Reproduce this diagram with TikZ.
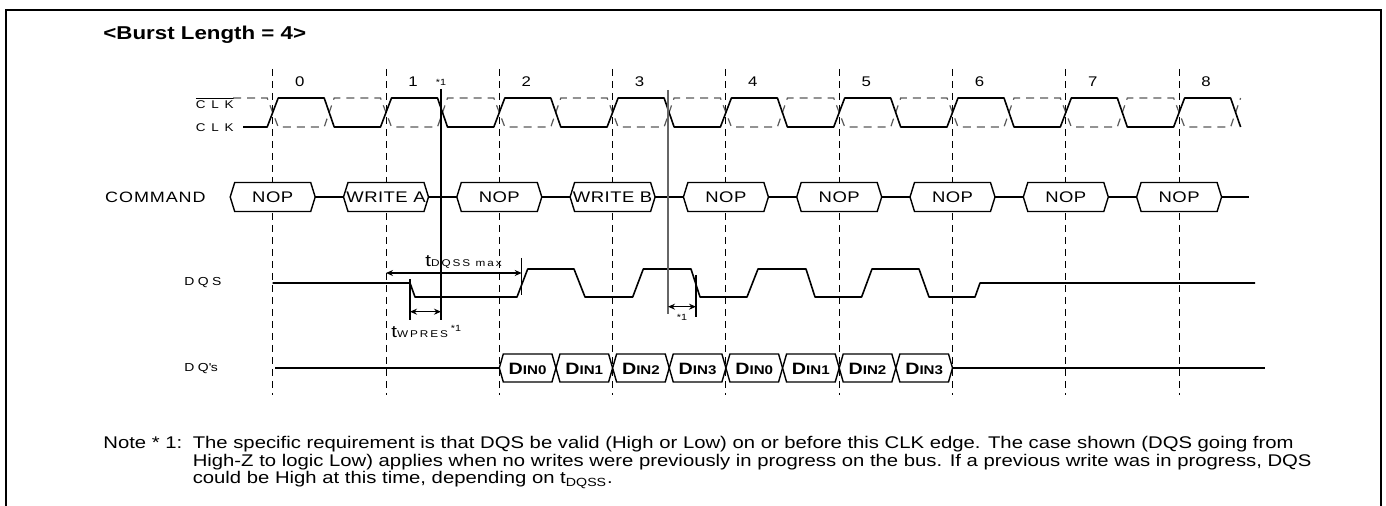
\documentclass[tikz,border=0pt]{standalone}
\usepackage{fontspec}
\setmainfont{Liberation Sans}[FakeStretch=1.2]
\usetikzlibrary{arrows.meta, positioning}

\begin{document}
\begin{tikzpicture}[
    x=0.5pt, y=-0.5pt,
    font=\fontsize{7}{8}\selectfont,
    wave/.style={line width=0.8pt, line join=round},
    ghost/.style={line width=0.6pt, black!65, dash pattern=on 4pt off 3pt},
    edgeline/.style={line width=0.5pt, dash pattern=on 3.5pt off 2.5pt},
    marker/.style={line width=0.6pt},
    dim/.style={line width=0.6pt, {Stealth[length=3.5pt,width=3pt]}-{Stealth[length=3.5pt,width=3pt]}},
    siglabel/.style={inner sep=0pt, font=\fontsize{5.6}{6}\selectfont\addfontfeatures{LetterSpace=52}},
    bus/.style={line width=0.7pt, fill=white},
    buslabel/.style={inner sep=0pt, font=\fontsize{7.7}{8}\selectfont\addfontfeatures{LetterSpace=3}},
    datalabel/.style={inner sep=0pt, font=\bfseries\fontsize{8.2}{9}\selectfont},
    starlabel/.style={inner sep=0pt, font=\fontsize{4.5}{5}\selectfont}
]
\def\xo{272.7}
\def\T{113.3}

\useasboundingbox (0,0) rectangle (1386,506);
\draw[line width=1.2pt] (6,506) -- (6,10) -- (1381,10) -- (1381,506);

\node[font=\bfseries\fontsize{9.3}{11}\selectfont, anchor=west, inner sep=0pt] (title) at (103,35) {<Burst Length = 4>};

% clock edges and cycle numbers
\foreach \i in {0,...,8}{
    \draw[edgeline] ({\xo+\i*\T},69) -- ({\xo+\i*\T},395);
    \node (num\i) at ({\xo+\i*\T+27},82) {\i};
}

% signal names
\node[siglabel, anchor=east] (clkb) at (234,103) {$\overline{\hbox{CLK}}$};
\node[siglabel, anchor=east] (clk) at (234,128) {CLK};
\node[buslabel, anchor=east, font=\fontsize{7.5}{8}\selectfont\addfontfeatures{LetterSpace=6}] (cmd) at (206,197) {COMMAND};
\node[siglabel, anchor=west, font=\fontsize{5.8}{7}\selectfont\addfontfeatures{LetterSpace=30}] (dqs) at (184,283) {DQS};
\node[siglabel, anchor=west, font=\fontsize{5.8}{7}\selectfont\addfontfeatures{LetterSpace=30}] (dq) at (184,369) {DQ\textquotesingle s};

% clocks
\draw[ghost] (233,98) \foreach \i in {0,...,8}{
    -- ({\xo+\i*\T-5.5},98) -- ({\xo+\i*\T+5.5},127)
    -- ({\xo+\i*\T+51.5},127) -- ({\xo+\i*\T+61.5},98)};
\draw[wave] (243,127) \foreach \i in {0,...,8}{
    -- ({\xo+\i*\T-5.5},127) -- ({\xo+\i*\T+5.5},98)
    -- ({\xo+\i*\T+51.5},98) -- ({\xo+\i*\T+61.5},127)};

% command bus
\foreach \i/\cmd in {0/NOP,1/WRITE A,2/NOP,3/WRITE B,4/NOP,5/NOP,6/NOP,7/NOP,8/NOP}{
    \draw[bus] ({\xo+\i*\T-42.5},197) -- ++(4.5,-14.5) -- ({\xo+\i*\T+38},182.5)
        -- ++(4.5,14.5) -- ++(-4.5,14.5) -- ({\xo+\i*\T-38},211.5) -- cycle;
    \node[buslabel] (cmd\i) at ({\xo+\i*\T},197) {\cmd};
    \coordinate (cmdL\i) at ({\xo+\i*\T-42.5},197);
    \coordinate (cmdR\i) at ({\xo+\i*\T+42.5},197);
}
\foreach \i [count=\j from 1] in {0,...,7}
    \draw[wave] (cmdR\i) -- (cmdL\j);
\coordinate (cmdend) at (1249,197);
\draw[wave] (cmdR8) -- (cmdend);

% DQS
\draw[wave] (272.7,283) -- (410,283) -- (415,297) -- (517,297) -- (527.7,269)
    -- (574,269) -- (585,297) -- (632.7,297) -- (643.3,269) -- (691,269)
    -- (700,297) -- (747,297) -- (758,269) -- (806,269) -- (815,297)
    -- (861.6,297) -- (872,269) -- (919,269) -- (929,297) -- (975,297)
    -- (980,283) -- (1255,283);

% DQ's
\foreach \k/\n in {0/0,1/1,2/2,3/3,4/0,5/1,6/2,7/3}{
    \pgfmathsetmacro\a{499.3+\k*56.65}
    \draw[bus] (\a,368) -- ++(4,-14) -- ({\a+52.65},354) -- ++(4,14)
        -- ++(-4,14) -- ({\a+4},382) -- cycle;
    \node[datalabel] (din\k) at ({\a+28.3},368.5) {D{\fontsize{6.3}{7}\selectfont IN\n}};
}
\coordinate (dqstart) at (275,368);
\coordinate (dqin) at (499.3,368);
\coordinate (dqout) at (952.5,368);
\coordinate (dqend) at (1265,368);
\draw[wave] (dqstart) -- (dqin);
\draw[wave] (dqout) -- (dqend);

% timing marks
\draw[marker] (441,89) -- (441,320);
\node[starlabel] (star1) at (441,82) {*1};
\draw[marker, black!60] (668,90) -- (668,314);

\draw[marker] (521.7,258) -- (521.7,295);
\draw[dim] (386,273) -- (521.7,273);
\node[inner sep=0pt, anchor=west, font=\fontsize{8.5}{10}\selectfont] (tdqss) at (425,262)
    {t{\fontsize{4.9}{6}\selectfont\addfontfeatures{LetterSpace=20}DQSS max}};

\draw[marker] (410,279) -- (410,320);
\draw[dim] (410,311.7) -- (441,311.7);
\node[inner sep=0pt, anchor=west, font=\fontsize{8.5}{10}\selectfont] (twpres) at (391,331)
    {t{\fontsize{4.9}{6}\selectfont\addfontfeatures{LetterSpace=20}WPRES}\,\raisebox{3pt}{\fontsize{4.5}{5}\selectfont *1}};

\draw[marker] (696,275) -- (696,317);
\draw[dim] (668,306.7) -- (696,306.7);
\node[starlabel] (star2) at (682,317) {*1};

% note
\node[anchor=north west, inner sep=0pt, font=\fontsize{8.45}{8.75}\selectfont] (note) at (103,436)
    {\begin{tabular}{@{}l@{}l@{}}
    Note * 1:\hspace*{0.62em} & The specific requirement is that DQS be valid (High or Low) on or before this CLK edge. The case shown (DQS going from\\
    & High-Z to logic Low) applies when no writes were previously in progress on the bus. If a previous write was in progress, DQS\\
    & could be High at this time, depending on t\textsubscript{DQSS}.
    \end{tabular}};
\end{tikzpicture}
\end{document}
